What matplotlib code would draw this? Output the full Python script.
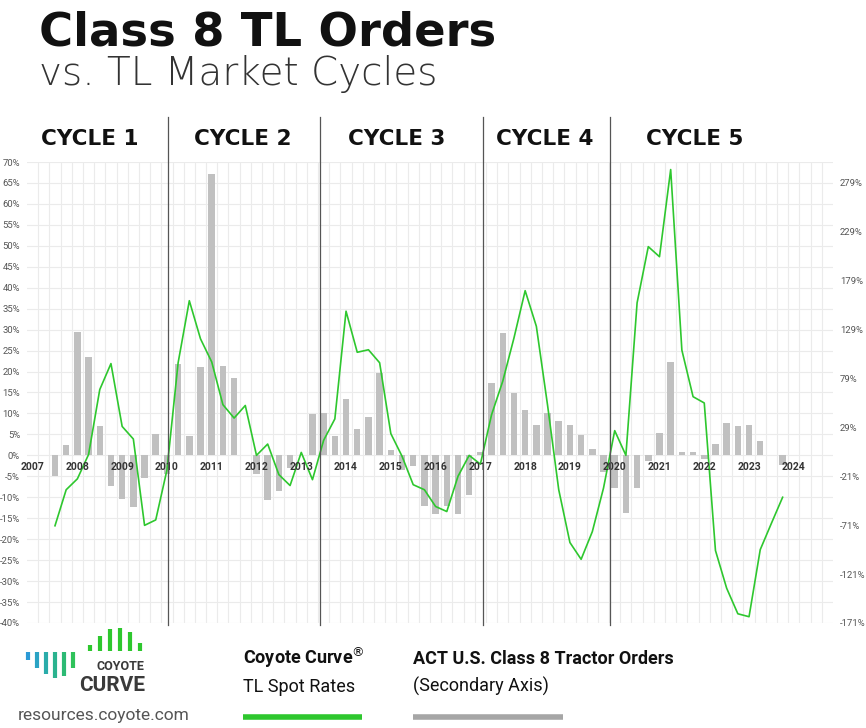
import matplotlib
matplotlib.use("Agg")
import matplotlib.pyplot as plt
import numpy as np

# quarterly axis, 2007 Q1 .. 2024 Q4
years = list(range(2007, 2025))
start_q = 2  # first data point = 2007 Q3

# Coyote Curve TL spot rates, YoY % (primary axis)
spot_rates = [-16.8, -8.2, -5.6, 0.2, 15.7, 21.9, 6.9, 3.9, -16.7, -15.4,
              -3.5, 22.1, 36.9, 27.8, 22.3, 12.1, 8.9, 11.9, 0.0, 2.7,
              -4.6, -7.2, 0.7, -5.8, 3.6, 8.7, 34.4, 24.6, 25.2, 22.1,
              5.2, -0.2, -7.0, -8.2, -12.2, -13.4, -5.0, 0.0, -2.1, 9.7,
              17.7, 28.0, 39.3, 30.8, 12.0, -8.2, -20.8, -24.8, -18.2, -7.8,
              5.9, 0.0, 36.4, 49.8, 47.4, 68.2, 25.1, 14.0, 12.5, -22.7,
              -31.7, -37.8, -38.5, -22.5, -16.2, -10.0]

# ACT U.S. Class 8 tractor orders, YoY % (secondary axis)
tractor_orders = [-21, 11, 126, 101, 30, -31, -45, -53, -23, 22,
                  -19, 93, 20, 90, 288, 91, 79, 0, -19, -46,
                  -36, -13, 0, 42, 43, 20, 58, 27, 39, 84,
                  5, -15, -11, -52, -60, -52, -60, -41, 3, 74,
                  125, 64, 46, 31, 43, 35, 31, 21, 6, -17,
                  -33, -59, -33, -6, 23, 95, 3, 3, -4, 12,
                  33, 30, 31, 15, 0, -10]

cycle_labels = ["CYCLE 1", "CYCLE 2", "CYCLE 3", "CYCLE 4", "CYCLE 5"]
cycle_breaks = [12.06, 25.65, 40.2, 51.6]  # quarter positions of the dividers

W, H = 866, 728
def fx(px):
    return px / W
def fy(py):
    return 1 - py / H

GREEN = "#2ec72e"
BAR = "#c0c0c0"
GRID = "#ebebeb"
TICK = "#555555"
NARROW = ["Liberation Sans Narrow", "Roboto"]

fig = plt.figure(figsize=(W / 100, H / 100), dpi=100)
ax = fig.add_axes([fx(27), fy(623), fx(833) - fx(27), fy(162) - fy(623)])
ax2 = ax.twinx()

k = 30 / 7  # secondary units per primary unit
ax.set_ylim(-40, 70)
ax2.set_ylim(-40 * k, 70 * k)
ax.set_xlim(-0.5, len(years) * 4 - 0.5)

x = np.arange(start_q, start_q + len(spot_rates))

# grid on the back axes so bars sit over it
for v in range(-40, 75, 5):
    ax2.axhline(v * k, color=GRID, lw=0.8, zorder=0)
for q in range(len(years) * 4 - 1):
    ax2.axvline(q + 0.5, color=GRID, lw=0.8, zorder=0)

ax2.bar(x, tractor_orders, width=0.58, color=BAR, zorder=2)
ax.plot(x, spot_rates, color=GREEN, lw=1.2, zorder=3)

ax.set_zorder(ax2.get_zorder() + 1)
ax.patch.set_visible(False)

for a in (ax, ax2):
    for s in a.spines.values():
        s.set_visible(False)
ax.set_xticks([])
ax.set_yticks(range(-40, 75, 5))
ax.set_yticklabels([f"{v}%" for v in range(-40, 75, 5)])
ax.tick_params(axis="y", length=0, pad=5, labelsize=6.8, labelcolor=TICK)
for t in ax.get_yticklabels():
    t.set_fontfamily(NARROW)

rticks = [-40 * k + 50 * n for n in range(10)]
ax2.set_yticks(rticks)
ax2.set_yticklabels([f"{v:.0f}%" for v in rticks])
ax2.tick_params(axis="y", length=0, pad=5, labelsize=6.8, labelcolor=TICK)
for t in ax2.get_yticklabels():
    t.set_fontfamily(NARROW)

for i, yr in enumerate(years):
    ax.text(i * 4, -2.7, str(yr), ha="center", va="center", fontsize=7.5,
            fontweight="bold", color="#333333", zorder=4, family=NARROW)

# cycle dividers, running up into the label band
for b in cycle_breaks:
    ax.axvline(b, ymin=-0.004, ymax=(623 - 117) / (623 - 162), color="#555555",
               lw=0.9, clip_on=False, zorder=5)

cycle_x = [90, 243, 397, 545, 695]
for lab, cx in zip(cycle_labels, cycle_x):
    fig.text(fx(cx), fy(145), lab, ha="center", va="baseline", fontsize=15.5,
             fontweight="bold", color="#111111", family=["DejaVu Sans"])

fig.text(fx(39), fy(45), "Class 8 TL Orders", ha="left", va="baseline",
         fontsize=33.5, fontweight="heavy", color="#111111", family=["DejaVu Sans"])
fig.text(fx(39), fy(85), "vs. TL Market Cycles", ha="left", va="baseline",
         fontsize=28, fontweight=200, color="#333333", family=["DejaVu Sans"])

# logo
teal = ["#2b9ad6", "#2aa3c4", "#2aacaa", "#2bb38f", "#2cba74", "#2fc25a"]
teal_x = [28, 37, 46, 55, 64, 73]
teal_bottom = [660, 668, 674, 678, 676, 668]
for px, pb, c in zip(teal_x, teal_bottom, teal):
    fig.add_artist(plt.Line2D([fx(px), fx(px)], [fy(652), fy(pb)], color=c,
                              lw=3, solid_capstyle="butt"))
green_x = [90, 100, 110, 120, 130, 140]
green_top = [645, 636, 629, 628, 632, 643]
for px, pt in zip(green_x, green_top):
    fig.add_artist(plt.Line2D([fx(px), fx(px)], [fy(651), fy(pt)], color=GREEN,
                              lw=3, solid_capstyle="butt"))
fig.text(fx(144), fy(670), "COYOTE", ha="right", va="baseline", fontsize=9,
         fontweight="bold", color="#3a3a3a", family=NARROW)
fig.text(fx(145), fy(691), "CURVE", ha="right", va="baseline", fontsize=15,
         fontweight="bold", color="#3a3a3a", family=NARROW)
fig.text(fx(18), fy(720), "resources.coyote.com", ha="left", va="baseline",
         fontsize=12.5, color="#555555", family=NARROW)

# legend
fig.text(fx(243), fy(664), "Coyote Curve$^{\\circledR}$", ha="left", va="baseline",
         fontsize=13, fontweight="bold", color="#111111", family=NARROW)
fig.text(fx(243), fy(692), "TL Spot Rates", ha="left", va="baseline",
         fontsize=13, color="#111111", family=NARROW)
fig.text(fx(413), fy(664), "ACT U.S. Class 8 Tractor Orders", ha="left", va="baseline",
         fontsize=13, fontweight="bold", color="#111111", family=NARROW)
fig.text(fx(413), fy(692), "(Secondary Axis)", ha="left", va="baseline",
         fontsize=13, color="#111111", family=NARROW)
fig.add_artist(plt.Line2D([fx(243), fx(362)], [fy(717), fy(717)], color=GREEN,
                          lw=4, solid_capstyle="butt"))
fig.add_artist(plt.Line2D([fx(413), fx(563)], [fy(717), fy(717)], color="#a6a6a6",
                          lw=4, solid_capstyle="butt"))

fig.savefig("out.png", dpi=100)
